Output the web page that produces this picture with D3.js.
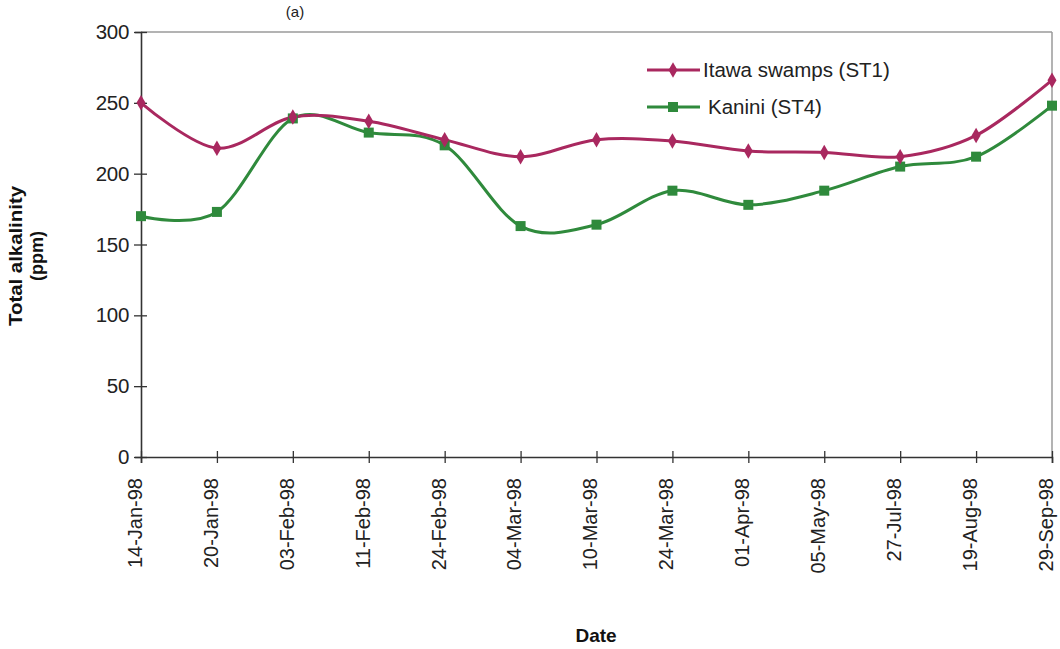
<!DOCTYPE html>
<html><head><meta charset="utf-8">
<script src="https://cdn.jsdelivr.net/npm/d3@7"></script>
<style>body{margin:0;background:#fff;} svg{display:block;}</style>
</head><body>
<svg id="c" width="1060" height="649"></svg>
<script>
const dates = ["14-Jan-98","20-Jan-98","03-Feb-98","11-Feb-98","24-Feb-98","04-Mar-98","10-Mar-98","24-Mar-98","01-Apr-98","05-May-98","27-Jul-98","19-Aug-98","29-Sep-98"];
const itawa = [250,218,240,237,224,212,224,223,216,215,212,227,266];
const kanini = [170,173,239,229,220,163,164,188,178,188,205,212,248];
const yTicks = [0,50,100,150,200,250,300];
const seriesNames = ["Itawa swamps (ST1)","Kanini (ST4)"];

const svg = d3.select("#c");
const m = {left:141, right:1052, top:32, bottom:457};
const FONT = "Liberation Sans, Arial, sans-serif";

const x = d3.scalePoint().domain(dates).range([m.left, m.right]);
const y = d3.scaleLinear().domain([0,300]).range([m.bottom, m.top]);

// frame top/right
svg.append("line").attr("x1",m.left).attr("x2",m.right).attr("y1",m.top).attr("y2",m.top).attr("stroke","#9a9a9a").attr("stroke-width",1.5);
svg.append("line").attr("x1",m.right).attr("x2",m.right).attr("y1",m.top).attr("y2",m.bottom).attr("stroke","#9a9a9a").attr("stroke-width",1.5);

// Y axis
const ya = svg.append("g").attr("transform",`translate(${m.left},0)`)
  .call(d3.axisLeft(y).tickValues(yTicks).tickSize(6));
ya.select(".domain").attr("stroke","#333").attr("stroke-width",1.6);
ya.selectAll(".tick line").attr("stroke","#333").attr("x1",-7).attr("x2",6).attr("stroke-width",1.3);
ya.selectAll(".tick text").attr("font-family",FONT).attr("font-size",20.5).attr("fill","#222").attr("x",-12).attr("letter-spacing","-0.3");

// X axis
const xa = svg.append("g").attr("transform",`translate(0,${m.bottom})`)
  .call(d3.axisBottom(x).tickSize(6));
xa.select(".domain").attr("stroke","#333").attr("stroke-width",1.6);
xa.selectAll(".tick line").attr("stroke","#333").attr("y1",-6).attr("y2",6).attr("stroke-width",1.3);
xa.selectAll(".tick text").attr("font-family",FONT).attr("font-size",20).attr("fill","#222")
  .attr("transform","rotate(-90)").attr("text-anchor","end").attr("x",-21).attr("y",0).attr("dy","0.02em");

const magenta = "#a9285f", green = "#2f8a3c";
const line = d3.line().x((d,i)=>x(dates[i])).y(d=>y(d)).curve(d3.curveCatmullRom.alpha(0));

svg.append("path").datum(kanini).attr("d",line).attr("fill","none").attr("stroke",green).attr("stroke-width",3);
svg.append("path").datum(itawa).attr("d",line).attr("fill","none").attr("stroke",magenta).attr("stroke-width",3);

svg.append("g").selectAll("rect").data(kanini).join("rect")
  .attr("x",(d,i)=>x(dates[i])-5).attr("y",d=>y(d)-5).attr("width",10).attr("height",10).attr("fill",green);
svg.append("g").selectAll("path").data(itawa).join("path")
  .attr("d",d3.symbol().type(d3.symbolDiamond).size(70))
  .attr("transform",(d,i)=>`translate(${x(dates[i])},${y(d)})`).attr("fill",magenta);

// legend
const lg = svg.append("g").attr("font-family",FONT).attr("font-size",20.5).attr("fill","#222");
const legY = [70,107];
[magenta, green].forEach((c,i)=>{
  lg.append("line").attr("x1",647).attr("x2",700).attr("y1",legY[i]).attr("y2",legY[i]).attr("stroke",c).attr("stroke-width",3);
  if(i===0) lg.append("path").attr("d",d3.symbol().type(d3.symbolDiamond).size(70)).attr("transform",`translate(673,${legY[i]})`).attr("fill",c);
  else lg.append("rect").attr("x",668).attr("y",legY[i]-5).attr("width",10).attr("height",10).attr("fill",c);
  lg.append("text").attr("x", i===0?703:708).attr("y",legY[i]).attr("dy","0.36em").text(seriesNames[i]);
});

// titles
svg.append("text").attr("x",295).attr("y",17).attr("text-anchor","middle").attr("font-family",FONT).attr("font-size",15).attr("fill","#222").text("(a)");
svg.append("text").attr("x",596).attr("y",642).attr("text-anchor","middle").attr("font-family",FONT).attr("font-weight","bold").attr("font-size",19).attr("fill","#111").text("Date");
const yl = svg.append("g").attr("transform","translate(0,256) rotate(-90)").attr("font-family",FONT).attr("font-weight","bold").attr("font-size",18).attr("fill","#111").attr("text-anchor","middle");
yl.append("text").attr("x",0).attr("y",22).attr("textLength",140).attr("lengthAdjust","spacingAndGlyphs").text("Total alkalinity");
yl.append("text").attr("x",0).attr("y",43).text("(ppm)");
</script>
</body></html>
